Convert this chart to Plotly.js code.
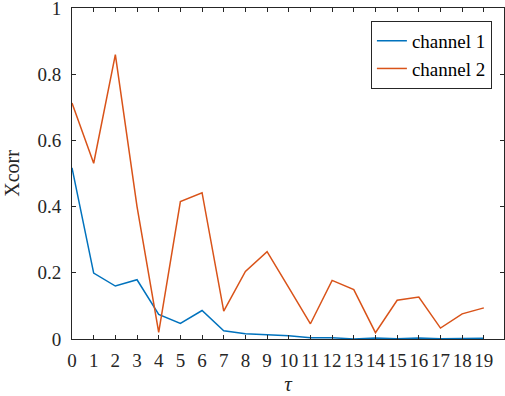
<!DOCTYPE html>
<html>
<head>
<meta charset="utf-8">
<script src="https://cdn.plot.ly/plotly-3.0.1.min.js"></script>
<style>html,body{margin:0;padding:0;background:#fff;}#chart{width:505px;height:396px;}
#chart text, #chart tspan { font-family: 'Liberation Serif', serif !important; }
#fontwarm{position:absolute;left:-2000px;top:0;font-family:'Liberation Serif';font-size:19px;}</style>
</head>
<body>
<div id="fontwarm">channel 0123456789 Xcorr <i>τ</i></div>
<div id="chart"></div>
<script>
const tau = [0,1,2,3,4,5,6,7,8,9,10,11,12,13,14,15,16,17,18,19];
const channel1 = [0.517,0.199,0.160,0.179,0.074,0.047,0.086,0.025,0.016,0.014,0.010,0.004,0.004,0.000,0.003,0.001,0.003,0.001,0.001,0.002];
const channel2 = [0.713,0.531,0.859,0.400,0.020,0.415,0.442,0.084,0.204,0.264,0.155,0.046,0.177,0.149,0.019,0.117,0.127,0.033,0.076,0.094];
const seriesNames = ['channel 1','channel 2'];
const yTickVals = [0,0.2,0.4,0.6,0.8,1];
const yTickText = ['0','0.2','0.4','0.6','0.8','1'];
const xTickText = tau.map(String);

const FAM = 'Liberation Serif';
const axisColor = '#262626';

const traces = [
  {x: tau, y: channel1, name: seriesNames[0], type: 'scatter', mode: 'lines',
   line: {color: '#0072BD', width: 1.5}},
  {x: tau, y: channel2, name: seriesNames[1], type: 'scatter', mode: 'lines',
   line: {color: '#D95319', width: 1.5}}
];

const layout = {
  width: 505, height: 396,
  margin: {l: 72, r: 1, t: 8, b: 57},
  paper_bgcolor: '#fff', plot_bgcolor: '#fff',
  font: {family: FAM, size: 19, color: axisColor},
  showlegend: true,
  legend: {x: 0.972, y: 0.961, xanchor: 'right', yanchor: 'top',
    bgcolor: '#fff', bordercolor: axisColor, borderwidth: 1,
    font: {family: FAM, size: 19, color: '#000'}, tracegroupgap: 0},
  xaxis: {range: [0, 19.93], tickvals: tau, ticktext: xTickText,
    ticks: 'inside', ticklen: 4, tickcolor: axisColor, tickwidth: 1,
    showline: true, linecolor: axisColor, linewidth: 1, mirror: 'ticks',
    showgrid: false, zeroline: false, ticklabelstandoff: 4,
    tickfont: {family: FAM, size: 19, color: axisColor},
    title: {text: '<i>τ</i>', font: {family: FAM, size: 21, color: axisColor}, standoff: 6}},
  yaxis: {range: [0, 1], tickvals: yTickVals, ticktext: yTickText,
    ticks: 'inside', ticklen: 4, tickcolor: axisColor, tickwidth: 1,
    showline: true, linecolor: axisColor, linewidth: 1, mirror: 'ticks',
    showgrid: false, zeroline: false, ticklabelstandoff: 6, ticklabeloverflow: 'allow',
    tickfont: {family: FAM, size: 19, color: axisColor},
    title: {text: 'Xcorr', font: {family: FAM, size: 20, color: axisColor}, standoff: 12}}
};

function draw() {
  Plotly.newPlot('chart', traces, layout, {displayModeBar: false});
}
if (document.fonts && document.fonts.load) {
  document.fonts.load('19px "Liberation Serif"').then(draw, draw);
} else {
  draw();
}
</script>
</body>
</html>
